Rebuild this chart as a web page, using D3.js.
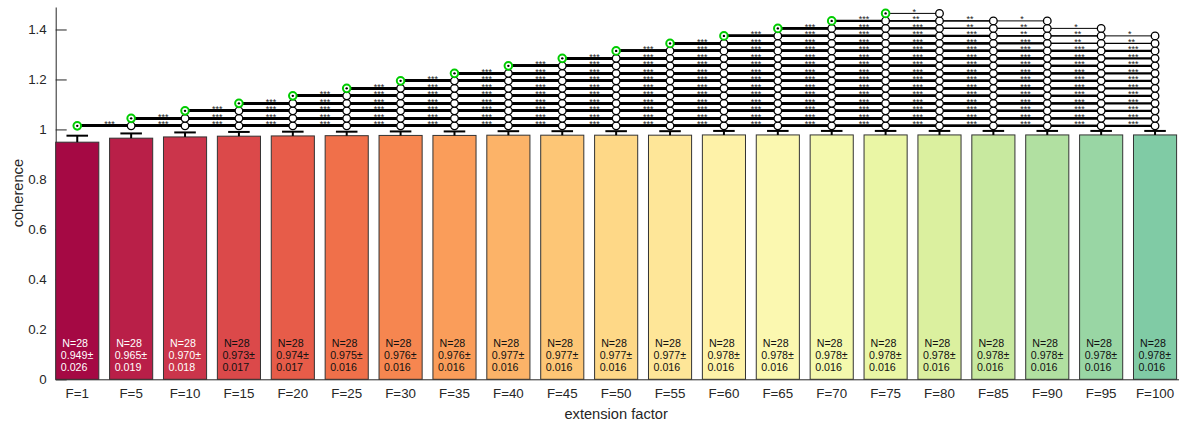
<!DOCTYPE html>
<html>
<head>
<meta charset="utf-8">
<script src="https://cdn.jsdelivr.net/npm/d3@7"></script>
<style>
  html, body { margin: 0; padding: 0; background: #fff; }
  svg { display: block; font-family: "Liberation Sans", Arial, Helvetica, sans-serif; }
</style>
</head>
<body>
<svg id="chart" width="1179" height="425"></svg>
<script>
// Extension factors and per-factor coherence summary (mean ± SD, N)
const factors = [1, 5, 10, 15, 20, 25, 30, 35, 40, 45, 50, 55, 60, 65, 70, 75, 80, 85, 90, 95, 100];
const labels = factors.map(f => "F=" + f);
const means = [0.949, 0.965, 0.970, 0.973, 0.974, 0.975, 0.976, 0.976, 0.977, 0.977, 0.977,
               0.977, 0.978, 0.978, 0.978, 0.978, 0.978, 0.978, 0.978, 0.978, 0.978];
const sds = [0.026, 0.019, 0.018, 0.017, 0.017, 0.016, 0.016, 0.016, 0.016, 0.016, 0.016,
             0.016, 0.016, 0.016, 0.016, 0.016, 0.016, 0.016, 0.016, 0.016, 0.016];
const counts = [28, 28, 28, 28, 28, 28, 28, 28, 28, 28, 28, 28, 28, 28, 28, 28, 28, 28, 28, 28, 28];
const yTicks = [0, 0.2, 0.4, 0.6, 0.8, 1, 1.2, 1.4];

// Pairwise significance: row i lists star counts for factor i against the
// following factors (i+1, i+2, ...); the row stops at the last significant one.
const sigStars = [
  "33333333333333333333", // F=1
  "3333333333333333333",  // F=5
  "333333333333333333",   // F=10
  "33333333333333333",    // F=15
  "3333333333333333",     // F=20
  "333333333333333",      // F=25
  "33333333333333",       // F=30
  "3333333333333",        // F=35
  "333333333333",         // F=40
  "33333333333",          // F=45
  "3333333333",           // F=50
  "333333322",            // F=55
  "33333221",             // F=60
  "333221",               // F=65
  "3221",                 // F=70
  "1",                    // F=75
  "", "", "", "", ""      // F=80 .. F=100
];

const W = 1179, H = 425;
const plotL = 55.7, plotR = 1176.6, plotT = 7, plotB = 379.3;
const textColor = "#262626";

const svg = d3.select("#chart");
svg.append("rect").attr("width", W).attr("height", H).attr("fill", "#fff");

const x = d3.scaleBand().domain(labels).range([plotL, plotR]).paddingInner(0.2).paddingOuter(0);
const y = d3.scaleLinear().domain([0, 1.49]).range([plotB, plotT]);
const cx = i => x(labels[i]) + x.bandwidth() / 2;
const color = i => d3.interpolateSpectral(0.0125 + 0.0375 * i);

// Bracket levels for each comparison group
const levelBase = 1.0144, levelStep = 0.03;
const level = i => levelBase + levelStep * i;

// Y axis (ticks point inward, drawn beneath the bars)
const yAxis = svg.append("g")
  .attr("transform", `translate(${plotL},0)`)
  .call(d3.axisLeft(y).tickValues(yTicks).tickSizeInner(-11).tickSizeOuter(0).tickPadding(9)
        .tickFormat(d => d3.format("~g")(d)));
yAxis.select(".domain").attr("stroke", textColor);
yAxis.selectAll(".tick line").attr("stroke", textColor);
yAxis.selectAll("text").attr("fill", textColor).style("font-size", "13.33px");

// X axis
const xAxis = svg.append("g")
  .attr("transform", `translate(0,${plotB})`)
  .call(d3.axisBottom(x).tickSize(0).tickPadding(9.7));
xAxis.select(".domain").attr("stroke", textColor).attr("d", `M${plotL},0.5H${W}`);
xAxis.selectAll("text").attr("fill", textColor).style("font-size", "13.33px");

// Bars
svg.append("g").selectAll("rect")
  .data(means)
  .join("rect")
  .attr("x", (d, i) => x(labels[i]))
  .attr("width", x.bandwidth())
  .attr("y", d => y(d))
  .attr("height", d => y(0) - y(d))
  .attr("fill", (d, i) => color(i))
  .attr("stroke", "#333")
  .attr("stroke-width", 1);

// Upper error whiskers
const eb = svg.append("g").attr("stroke", "#000").attr("stroke-width", 2);
means.forEach((m, i) => {
  const yt = y(m + sds[i]);
  eb.append("line").attr("x1", cx(i)).attr("x2", cx(i)).attr("y1", y(m)).attr("y2", yt);
  eb.append("line").attr("x1", cx(i) - x.bandwidth() / 4).attr("x2", cx(i) + x.bandwidth() / 4)
    .attr("y1", yt).attr("y2", yt);
});

// In-bar annotation: N and mean ± SD
const ann = svg.append("g").style("font-size", "10.67px");
means.forEach((m, i) => {
  const fill = i < 3 ? "#fff" : "#111";
  const x0 = cx(i) - 16.5;
  const t = ann.append("text").attr("fill", fill);
  t.append("tspan").attr("x", x0 + 1.5).attr("y", 346.5).text("N=" + counts[i]);
  t.append("tspan").attr("x", x0).attr("y", 359).text(d3.format(".3f")(m) + "\u00b1");
  t.append("tspan").attr("x", x0).attr("y", 371.3).text(d3.format(".3f")(sds[i]));
});

// Significance brackets
const comps = [];
sigStars.forEach((row, i) => {
  row.split("").forEach((c, k) => comps.push({ i, j: i + 1 + k, n: +c }));
});
const widthFor = n => (n >= 3 ? 2.2 : n === 2 ? 1.4 : 1.0);

const lines = svg.append("g").attr("stroke", "#000").attr("fill", "none");
comps.slice().sort((a, b) => a.n - b.n).forEach(c => {
  lines.append("line")
    .attr("x1", cx(c.i)).attr("x2", cx(c.j))
    .attr("y1", y(level(c.i))).attr("y2", y(level(c.i)))
    .attr("stroke-width", widthFor(c.n));
});

// Star labels, left-aligned at the midpoint between neighbouring bars
const starG = svg.append("g").attr("fill", "#222").style("font-size", "9px");
comps.forEach(c => {
  starG.append("text")
    .attr("x", (cx(c.j - 1) + cx(c.j)) / 2)
    .attr("y", y(level(c.i)) + 1.2)
    .text("*".repeat(c.n));
});

// Target markers (open black circles)
const mk = svg.append("g");
comps.forEach(c => {
  mk.append("circle")
    .attr("cx", cx(c.j)).attr("cy", y(level(c.i))).attr("r", 3.8)
    .attr("fill", "#fff").attr("stroke", "#000").attr("stroke-width", 1.3);
});

// Origin markers (green circles) for each group with comparisons
sigStars.forEach((row, i) => {
  if (!row.length) return;
  mk.append("circle")
    .attr("cx", cx(i)).attr("cy", y(level(i))).attr("r", 3.8)
    .attr("fill", "#fff").attr("stroke", "#00cc00").attr("stroke-width", 2);
  mk.append("circle")
    .attr("cx", cx(i)).attr("cy", y(level(i))).attr("r", 1.2)
    .attr("fill", "#000");
});

// Axis titles
svg.append("text")
  .attr("x", (plotL + plotR) / 2).attr("y", 419)
  .attr("text-anchor", "middle").attr("fill", textColor)
  .style("font-size", "14.67px").text("extension factor");
svg.append("text")
  .attr("transform", `translate(23,${(plotT + plotB) / 2}) rotate(-90)`)
  .attr("text-anchor", "middle").attr("fill", textColor)
  .style("font-size", "14.67px").text("coherence");
</script>
</body>
</html>
